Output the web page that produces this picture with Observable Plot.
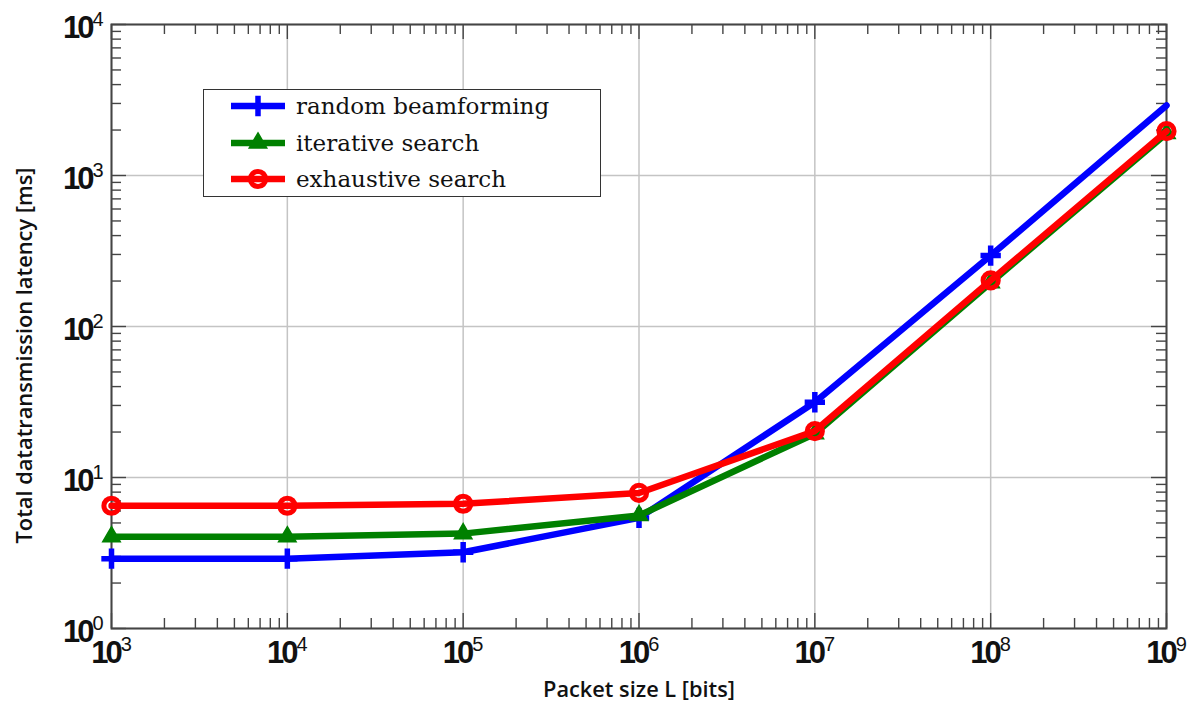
<!DOCTYPE html>
<html><head><meta charset="utf-8">
<script src="https://cdn.jsdelivr.net/npm/d3@7"></script>
<script src="https://cdn.jsdelivr.net/npm/@observablehq/plot@0.6"></script>
<style>
body{margin:0;background:#fff;}
#wrap{position:relative;width:1194px;height:702px;background:#fff;}
#legend{position:absolute;left:203px;top:89px;width:396px;height:106px;border:1.6px solid #333;background:#fff;font-family:"DejaVu Serif",serif;font-size:23px;color:#111;}
#legend .row{position:absolute;left:0;height:30px;display:flex;align-items:center;}
#legend svg{margin-left:26px;margin-right:10px;}
</style></head><body><div id="wrap"></div>
<script>
// ---- data ----
const packetSize = [1e3, 1e4, 1e5, 1e6, 1e7, 1e8, 1e9];
const seriesNames = ["random beamforming", "iterative search", "exhaustive search"];
const randomBF   = [2.9, 2.9, 3.2, 5.4, 31.5, 295, 2910];
const iterative  = [4.05, 4.05, 4.25, 5.6, 19.5, 195, 1900];
const exhaustive = [6.5, 6.5, 6.7, 7.9, 20.3, 202, 1965];
const seriesColors = ["#0000ff", "#008000", "#ff0000"];
const xTickValues = [1e3, 1e4, 1e5, 1e6, 1e7, 1e8, 1e9];
const yTickValues = [1, 10, 100, 1000, 10000];
const xLabel = "Packet size L [bits]";
const yLabel = "Total datatransmission latency [ms]";

// ---- layout ----
const W = 1194, H = 702, mL = 111, mR = 28, mT = 24, mB = 74;
const pW = W - mL - mR, pH = H - mT - mB;

const toRows = vals => packetSize.map((x, i) => ({x, y: vals[i]}));
const blueRows = toRows(randomBF), greenRows = toRows(iterative), redRows = toRows(exhaustive);

const minorOf = decs => decs.slice(0, -1).flatMap(d => d3.range(2, 10).map(k => k * d));
const xMinor = minorOf(xTickValues), yMinor = minorOf(yTickValues);
const frameStroke = "#444";
const fmt = d => `10^${Math.round(Math.log10(d))}`;

const plot = Plot.plot({
  width: W, height: H,
  marginLeft: mL, marginRight: mR, marginTop: mT, marginBottom: mB,
  x: {type: "log", domain: [1e3, 1e9]},
  y: {type: "log", domain: [1, 1e4]},
  style: {background: "#fff", color: "#111"},
  marks: [
    Plot.gridX(xTickValues, {stroke: "#c4c4c4", strokeOpacity: 1, strokeWidth: 1.5}),
    Plot.gridY(yTickValues, {stroke: "#c4c4c4", strokeOpacity: 1, strokeWidth: 1.5}),
    // minor & major ticks (inward)
    Plot.tickX(xMinor, {x: d => d, insetTop: pH - 10, stroke: frameStroke, strokeWidth: 1.4}),
    Plot.tickX(xMinor, {x: d => d, insetBottom: pH - 10, stroke: frameStroke, strokeWidth: 1.4}),
    Plot.tickX(xTickValues, {x: d => d, insetTop: pH - 15, stroke: frameStroke, strokeWidth: 1.4}),
    Plot.tickX(xTickValues, {x: d => d, insetBottom: pH - 15, stroke: frameStroke, strokeWidth: 1.4}),
    Plot.tickY(yMinor, {y: d => d, insetRight: pW - 10, stroke: frameStroke, strokeWidth: 1.4}),
    Plot.tickY(yMinor, {y: d => d, insetLeft: pW - 10, stroke: frameStroke, strokeWidth: 1.4}),
    Plot.tickY(yTickValues, {y: d => d, insetRight: pW - 15, stroke: frameStroke, strokeWidth: 1.4}),
    Plot.tickY(yTickValues, {y: d => d, insetLeft: pW - 15, stroke: frameStroke, strokeWidth: 1.4}),
    Plot.frame({stroke: frameStroke, strokeWidth: 2}),
    // series
    Plot.line(blueRows, {x: "x", y: "y", stroke: seriesColors[0], strokeWidth: 6.5}),
    Plot.dot(blueRows.filter(d => d.x < 1e9), {x: "x", y: "y", symbol: "plus", r: 6.6, stroke: seriesColors[0], strokeWidth: 5.5}),
    Plot.line(greenRows, {x: "x", y: "y", stroke: seriesColors[1], strokeWidth: 6.5}),
    Plot.dot(greenRows, {x: "x", y: "y", symbol: "triangle", r: 6.5, fill: seriesColors[1], stroke: seriesColors[1], strokeWidth: 1.5}),
    Plot.line(redRows, {x: "x", y: "y", stroke: seriesColors[2], strokeWidth: 6.5}),
    Plot.dot(redRows, {x: "x", y: "y", r: 7.6, stroke: seriesColors[2], strokeWidth: 5, fill: "none"}),
    // axes
    Plot.axisX(xTickValues, {tickSize: 0, tickPadding: 12, tickFormat: fmt, label: null,
      fontSize: 31, fontWeight: "bold", fontFamily: "Liberation Sans, Arial, sans-serif"}),
    Plot.axisY(yTickValues, {tickSize: 0, tickPadding: 8, dy: 4, tickFormat: fmt, label: null,
      fontSize: 31, fontWeight: "bold", fontFamily: "Liberation Sans, Arial, sans-serif"}),
    Plot.text([xLabel], {frameAnchor: "bottom", text: d => d, dy: 62, lineAnchor: "middle", textAnchor: "middle",
      fontSize: 21, fontFamily: "Open Sans, sans-serif", fontWeight: 600, fill: "#111"}),
    Plot.text([yLabel], {frameAnchor: "left", text: d => d, dx: -86, dy: 29, rotate: -90, lineAnchor: "middle", textAnchor: "middle",
      fontSize: 21, fontFamily: "Open Sans, sans-serif", fontWeight: 600, fill: "#111"})
  ]
});

// superscript exponents on tick labels
plot.querySelectorAll('g[aria-label="x-axis tick label"] text, g[aria-label="y-axis tick label"] text').forEach(t => {
  const [b, e] = t.textContent.split("^");
  t.textContent = b;
  t.style.letterSpacing = "-3px";
  const ts = document.createElementNS("http://www.w3.org/2000/svg", "tspan");
  ts.setAttribute("font-size", "20");
  ts.setAttribute("dy", "-12");
  ts.setAttribute("dx", "1");
  ts.setAttribute("font-weight", "normal");
  ts.style.letterSpacing = "0px";
  ts.textContent = e;
  t.appendChild(ts);
});
// condensed axis titles
plot.querySelectorAll('g[aria-label="text"] text').forEach(t => {
  if (t.textContent === xLabel) { t.setAttribute("textLength", 192); t.setAttribute("lengthAdjust", "spacingAndGlyphs"); }
  if (t.textContent === yLabel) { t.setAttribute("textLength", 376); t.setAttribute("lengthAdjust", "spacingAndGlyphs"); }
});

const wrap = document.getElementById("wrap");
wrap.appendChild(plot);

// legend overlay
const legend = document.createElement("div");
legend.id = "legend";
const symbols = [d3.symbolPlus, d3.symbolTriangle, d3.symbolCircle];
const rowTops = [1, 38, 74];
seriesNames.forEach((name, i) => {
  const row = document.createElement("div");
  row.className = "row";
  row.style.top = rowTops[i] + "px";
  const s = d3.create("svg").attr("width", 56).attr("height", 30);
  s.append("line").attr("x1", 1).attr("x2", 55).attr("y1", 15).attr("y2", 15)
    .attr("stroke", seriesColors[i]).attr("stroke-width", 6.5);
  const sizes = [Math.PI * 6.6 * 6.6, Math.PI * 6.5 * 6.5, Math.PI * 7.6 * 7.6];
  const p = s.append("path").attr("transform", "translate(28,15)").attr("d", d3.symbol(symbols[i], sizes[i])());
  if (i === 0) p.attr("fill", "none").attr("stroke", seriesColors[0]).attr("stroke-width", 5.5);
  if (i === 1) p.attr("fill", seriesColors[1]).attr("stroke", seriesColors[1]).attr("stroke-width", 1.5);
  if (i === 2) p.attr("fill", "none").attr("stroke", seriesColors[2]).attr("stroke-width", 5);
  row.appendChild(s.node());
  const label = document.createElement("span");
  label.textContent = name;
  row.appendChild(label);
  legend.appendChild(row);
});
wrap.appendChild(legend);
</script></body></html>
